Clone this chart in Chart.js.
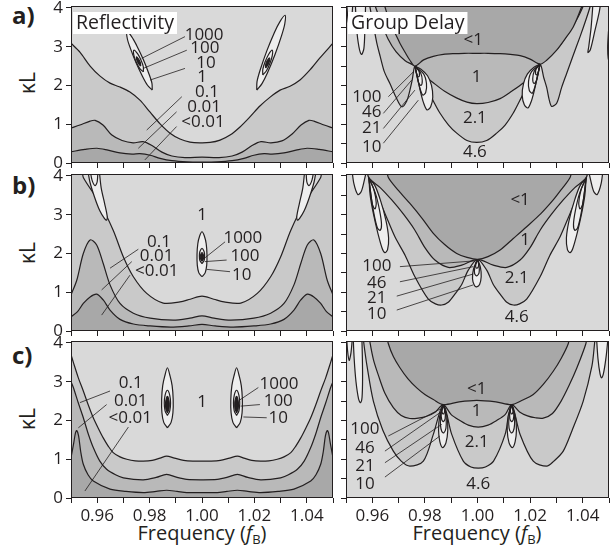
<!DOCTYPE html>
<html>
<head>
<meta charset="utf-8">
<title>Reflectivity and group delay maps</title>
<script src="https://cdn.jsdelivr.net/npm/chart.js@4.4.1/dist/chart.umd.min.js"></script>
<style>
  html, body { margin: 0; padding: 0; background: #fff; }
  body { position: relative; width: 613px; height: 554px; overflow: hidden;
         font-family: 'Open Sans', 'DejaVu Sans', sans-serif; color: #231f20; }
  canvas { position: absolute; }
  .tag { position: absolute; font-size: 24px; font-weight: bold; line-height: 24px; }
  .ylab { position: absolute; width: 40px; height: 24px; line-height: 24px; font-size: 21px;
          text-align: center; transform: rotate(-90deg); }
  .xlab { position: absolute; width: 200px; text-align: center; font-size: 20px; line-height: 24px; }
  .xlab sub { font-size: 13px; vertical-align: -4px; line-height: 0; }
</style>
</head>
<body>
<div class="tag" style="left:12px;top:3px">a)</div>
<div class="tag" style="left:12px;top:173px">b)</div>
<div class="tag" style="left:12px;top:343px">c)</div>
<div class="ylab" style="left:7px;top:71px">κL</div>
<div class="ylab" style="left:7px;top:241px">κL</div>
<div class="ylab" style="left:7px;top:407px">κL</div>
<div class="xlab" style="left:102px;top:521px">Frequency (<i>f</i><sub>B</sub>)</div>
<div class="xlab" style="left:377px;top:521px">Frequency (<i>f</i><sub>B</sub>)</div>
<script>
// ---- contour data: [frequency (f/fB), kL] ----

// reflectivity, grating a
const reflA1 = [[0.9500,3.09],[0.9534,2.86],[0.9573,2.50],[0.9611,2.24],[0.9649,2.06],[0.9687,1.96],[0.9725,1.83],[0.9763,1.62],[0.9802,1.31],[0.9840,1.01],[0.9878,0.77],[0.9916,0.62],[0.9954,0.54],[0.9992,0.52],[1.0031,0.53],[1.0069,0.59],[1.0107,0.72],[1.0145,0.93],[1.0183,1.19],[1.0221,1.47],[1.0260,1.70],[1.0298,1.88],[1.0336,1.98],[1.0374,2.14],[1.0412,2.40],[1.0450,2.71],[1.0500,3.09]];
const reflA01 = [[0.9500,0.90],[0.9534,0.98],[0.9573,1.08],[0.9592,1.10],[0.9622,0.98],[0.9656,0.72],[0.9695,0.58],[0.9737,0.52],[0.9775,0.55],[0.9809,0.45],[0.9847,0.28],[0.9885,0.18],[0.9935,0.14],[1.0000,0.15],[1.0065,0.14],[1.0115,0.18],[1.0153,0.28],[1.0191,0.45],[1.0225,0.55],[1.0263,0.52],[1.0305,0.57],[1.0344,0.75],[1.0378,0.98],[1.0408,1.10],[1.0427,1.08],[1.0466,0.98],[1.0500,0.90]];
const reflA001 = [[0.9500,0.29],[0.9553,0.35],[0.9599,0.38],[0.9641,0.33],[0.9687,0.26],[0.9733,0.23],[0.9763,0.24],[0.9802,0.20],[0.9840,0.12],[0.9885,0.06],[0.9943,0.03],[1.0000,0.025],[1.0057,0.03],[1.0115,0.06],[1.0160,0.12],[1.0198,0.20],[1.0237,0.24],[1.0267,0.23],[1.0313,0.26],[1.0359,0.33],[1.0401,0.38],[1.0447,0.35],[1.0500,0.29]];
const reflAPeakL10 = [[0.9810,1.88],[0.9809,2.055],[0.9798,2.29],[0.9776,2.67],[0.9750,3.04],[0.9732,3.255],[0.9714,3.38],[0.9715,3.205],[0.9726,2.97],[0.9748,2.59],[0.9774,2.22],[0.9792,2.005],[0.9810,1.88]];
const reflAPeakL100 = [[0.9776,2.35],[0.9776,2.483],[0.9767,2.656],[0.9754,2.819],[0.9740,2.91],[0.9740,2.777],[0.9749,2.604],[0.9762,2.441],[0.9776,2.35]];
const reflAPeakL1000 = [[0.9766,2.50],[0.9765,2.58],[0.9759,2.67],[0.9750,2.74],[0.9751,2.66],[0.9757,2.57],[0.9766,2.50]];
const reflAPeakR10 = [[1.0209,1.88],[1.0229,2.048],[1.0250,2.327],[1.0279,2.804],[1.0304,3.292],[1.0316,3.592],[1.0317,3.81],[1.0297,3.642],[1.0276,3.363],[1.0247,2.886],[1.0222,2.398],[1.0210,2.098],[1.0209,1.88]];
const reflAPeakR100 = [[1.0232,2.27],[1.0246,2.38],[1.0259,2.567],[1.0268,2.764],[1.0268,2.91],[1.0254,2.80],[1.0241,2.613],[1.0232,2.416],[1.0232,2.27]];
const reflAPeakR1000 = [[1.0243,2.45],[1.0251,2.52],[1.0257,2.62],[1.0258,2.71],[1.0249,2.64],[1.0243,2.54],[1.0243,2.45]];

// reflectivity, grating b
const reflB1 = [[0.9480,4.30],[0.9540,4.20],[0.9547,3.96],[0.9611,3.29],[0.9661,2.60],[0.9700,1.91],[0.9738,1.40],[0.9789,0.97],[0.9852,0.72],[0.9916,0.75],[0.9955,0.82],[1.0000,0.90],[1.0045,0.82],[1.0084,0.75],[1.0148,0.72],[1.0211,0.97],[1.0262,1.40],[1.0300,1.91],[1.0339,2.60],[1.0389,3.29],[1.0453,3.96],[1.0460,4.20],[1.0520,4.30]];
const reflB01 = [[0.9500,0.93],[0.9522,1.31],[0.9547,2.00],[0.9573,2.35],[0.9598,2.22],[0.9623,1.74],[0.9649,1.19],[0.9687,0.71],[0.9738,0.46],[0.9802,0.33],[0.9890,0.28],[0.9954,0.33],[1.0000,0.39],[1.0046,0.33],[1.0110,0.28],[1.0198,0.33],[1.0262,0.46],[1.0313,0.71],[1.0351,1.19],[1.0377,1.74],[1.0402,2.22],[1.0427,2.35],[1.0453,2.00],[1.0478,1.31],[1.0500,0.93]];
const reflB001 = [[0.9500,0.37],[0.9525,0.50],[0.9547,0.71],[0.9573,0.88],[0.9598,0.95],[0.9623,0.80],[0.9649,0.54],[0.9687,0.30],[0.9738,0.18],[0.9802,0.13],[0.9880,0.10],[0.9950,0.13],[1.0000,0.17],[1.0050,0.13],[1.0120,0.10],[1.0198,0.13],[1.0262,0.18],[1.0313,0.30],[1.0351,0.54],[1.0377,0.80],[1.0402,0.95],[1.0427,0.88],[1.0453,0.71],[1.0475,0.50],[1.0500,0.37]];
const reflBPeak10 = [[1.0000,1.40],[1.0012,1.50],[1.0018,1.70],[1.0019,1.97],[1.0016,2.25],[1.0009,2.45],[1.0000,2.56],[0.9991,2.45],[0.9984,2.25],[0.9981,1.97],[0.9982,1.70],[0.9988,1.50],[1.0000,1.40]];
const reflBPeak100 = [[1.0000,1.74],[1.0008,1.82],[1.0010,1.94],[1.0008,2.05],[1.0000,2.13],[0.9992,2.05],[0.9990,1.94],[0.9992,1.82],[1.0000,1.74]];
const reflBPeak1000 = [[1.0000,1.80],[1.0006,1.87],[1.0006,1.95],[1.0000,2.02],[0.9994,1.95],[0.9994,1.87],[1.0000,1.80]];
const reflBEdgeL = [[0.9563,4.20],[0.9572,3.85],[0.9590,3.45],[0.9610,3.10],[0.9628,2.90],[0.9636,2.86],[0.9638,2.97],[0.9628,3.30],[0.9615,3.70],[0.9607,4.20]];
const reflBEdgeLin = [[0.9572,4.20],[0.9580,3.90],[0.9592,3.75],[0.9600,3.85],[0.9603,4.20]];
const reflBEdgeR = [[1.0437,4.20],[1.0428,3.85],[1.0410,3.45],[1.0390,3.10],[1.0372,2.90],[1.0364,2.86],[1.0362,2.97],[1.0372,3.30],[1.0385,3.70],[1.0393,4.20]];
const reflBEdgeRin = [[1.0428,4.20],[1.0420,3.90],[1.0408,3.75],[1.0400,3.85],[1.0397,4.20]];

// reflectivity, grating c
const reflC1 = [[0.9500,3.70],[0.9509,3.50],[0.9528,3.10],[0.9547,2.76],[0.9566,2.40],[0.9585,2.07],[0.9604,1.80],[0.9623,1.55],[0.9642,1.34],[0.9661,1.17],[0.9687,1.06],[0.9713,1.00],[0.9745,0.96],[0.9776,0.95],[0.9810,0.97],[0.9840,1.03],[0.9865,1.08],[0.9895,1.03],[0.9930,0.97],[0.9965,0.95],[1.0000,0.95],[1.0035,0.95],[1.0070,0.97],[1.0105,1.03],[1.0135,1.08],[1.0160,1.03],[1.0190,0.97],[1.0224,0.95],[1.0255,0.96],[1.0287,1.00],[1.0313,1.06],[1.0339,1.17],[1.0358,1.34],[1.0377,1.55],[1.0396,1.80],[1.0415,2.07],[1.0434,2.40],[1.0453,2.76],[1.0472,3.10],[1.0491,3.50],[1.0500,3.70]];
const reflC01 = [[0.9500,3.00],[0.9509,2.85],[0.9528,2.45],[0.9547,2.07],[0.9566,1.65],[0.9585,1.30],[0.9610,0.95],[0.9636,0.74],[0.9670,0.60],[0.9700,0.52],[0.9776,0.47],[0.9825,0.53],[0.9865,0.61],[0.9905,0.53],[0.9942,0.48],[1.0000,0.47],[1.0058,0.48],[1.0095,0.53],[1.0135,0.61],[1.0175,0.53],[1.0224,0.47],[1.0300,0.52],[1.0330,0.60],[1.0364,0.74],[1.0390,0.95],[1.0415,1.30],[1.0434,1.65],[1.0453,2.07],[1.0472,2.45],[1.0491,2.85],[1.0500,3.00]];
const reflC001 = [[0.9500,1.04],[0.9510,1.40],[0.9517,1.68],[0.9522,1.74],[0.9529,1.60],[0.9537,1.20],[0.9547,0.87],[0.9565,0.60],[0.9585,0.44],[0.9649,0.23],[0.9710,0.17],[0.9776,0.14],[0.9825,0.17],[0.9865,0.20],[0.9905,0.17],[0.9942,0.14],[1.0000,0.14],[1.0058,0.14],[1.0095,0.17],[1.0135,0.20],[1.0175,0.17],[1.0224,0.14],[1.0290,0.17],[1.0351,0.23],[1.0415,0.44],[1.0435,0.60],[1.0453,0.87],[1.0463,1.20],[1.0471,1.60],[1.0478,1.74],[1.0483,1.68],[1.0490,1.40],[1.0500,1.04]];
const reflCPeakL10 = [[0.9868,1.81],[0.9882,1.95],[0.9889,2.20],[0.9890,2.55],[0.9886,2.90],[0.9878,3.15],[0.9868,3.36],[0.9858,3.15],[0.9850,2.90],[0.9846,2.55],[0.9847,2.20],[0.9854,1.95],[0.9868,1.81]];
const reflCPeakL100 = [[0.9868,2.13],[0.9877,2.25],[0.9880,2.45],[0.9877,2.65],[0.9868,2.78],[0.9859,2.65],[0.9856,2.45],[0.9859,2.25],[0.9868,2.13]];
const reflCPeakL1000 = [[0.9868,2.20],[0.9874,2.30],[0.9875,2.45],[0.9872,2.57],[0.9868,2.62],[0.9864,2.57],[0.9861,2.45],[0.9862,2.30],[0.9868,2.20]];
const reflCPeakR10 = [[1.0132,1.81],[1.0146,1.95],[1.0153,2.20],[1.0154,2.55],[1.0150,2.90],[1.0142,3.15],[1.0132,3.36],[1.0122,3.15],[1.0114,2.90],[1.0110,2.55],[1.0111,2.20],[1.0118,1.95],[1.0132,1.81]];
const reflCPeakR100 = [[1.0132,2.13],[1.0141,2.25],[1.0144,2.45],[1.0141,2.65],[1.0132,2.78],[1.0123,2.65],[1.0120,2.45],[1.0123,2.25],[1.0132,2.13]];
const reflCPeakR1000 = [[1.0132,2.20],[1.0138,2.30],[1.0139,2.45],[1.0136,2.57],[1.0132,2.62],[1.0128,2.57],[1.0125,2.45],[1.0126,2.30],[1.0132,2.20]];

// group delay, grating a
const delayA1 = [[0.9640,4.20],[0.9648,4.03],[0.9668,3.60],[0.9690,3.30],[0.9705,3.09],[0.9725,2.85],[0.9743,2.65],[0.9762,2.50],[0.9795,2.66],[0.9832,2.75],[0.9870,2.80],[0.9908,2.82],[0.9950,2.83],[0.9997,2.83],[1.0040,2.83],[1.0086,2.82],[1.0125,2.80],[1.0162,2.77],[1.0200,2.68],[1.0238,2.55],[1.0263,2.65],[1.0301,2.91],[1.0335,3.22],[1.0364,3.51],[1.0396,4.03],[1.0403,4.20]];
const delayA21 = [[0.9605,4.20],[0.9612,4.03],[0.9635,3.60],[0.9660,3.20],[0.9690,2.87],[0.9725,2.64],[0.9762,2.50],[0.9790,2.30],[0.9832,2.07],[0.9875,1.85],[0.9920,1.68],[0.9960,1.57],[0.9997,1.53],[1.0040,1.56],[1.0086,1.66],[1.0130,1.85],[1.0175,2.07],[1.0210,2.30],[1.0238,2.55],[1.0270,2.72],[1.0310,3.00],[1.0350,3.40],[1.0385,3.80],[1.0412,4.20]];
const delayA46 = [[0.9588,4.20],[0.9591,4.03],[0.9603,3.60],[0.9617,3.10],[0.9630,2.75],[0.9646,2.35],[0.9667,2.05],[0.9690,1.70],[0.9712,1.45],[0.9731,1.60],[0.9742,1.85],[0.9752,2.15],[0.9762,2.50],[0.9780,2.20],[0.9807,1.95],[0.9832,1.60],[0.9857,1.29],[0.9890,0.98],[0.9921,0.77],[0.9960,0.58],[0.9997,0.53],[1.0035,0.58],[1.0073,0.77],[1.0105,0.98],[1.0136,1.29],[1.0160,1.60],[1.0187,1.95],[1.0215,2.25],[1.0238,2.55],[1.0252,2.20],[1.0263,1.95],[1.0272,1.65],[1.0282,1.46],[1.0301,1.54],[1.0320,1.95],[1.0339,2.31],[1.0365,2.80],[1.0390,3.26],[1.0410,3.65],[1.0428,4.03],[1.0432,4.20]];
const delayALobeL10 = [[0.9762,2.50],[0.9772,2.20],[0.9783,1.85],[0.9795,1.55],[0.9808,1.37],[0.9822,1.45],[0.9830,1.70],[0.9825,2.00],[0.9810,2.25],[0.9785,2.42],[0.9762,2.50]];
const delayALobeL21 = [[0.9762,2.50],[0.9770,2.25],[0.9780,1.95],[0.9792,1.75],[0.9803,1.82],[0.9806,2.05],[0.9795,2.30],[0.9762,2.50]];
const delayALobeL46 = [[0.9762,2.50],[0.9768,2.30],[0.9776,2.07],[0.9785,2.00],[0.9790,2.12],[0.9784,2.32],[0.9762,2.50]];
const delayALobeL100 = [[0.9762,2.50],[0.9767,2.35],[0.9773,2.22],[0.9779,2.25],[0.9777,2.38],[0.9762,2.50]];
const delayALobeR10 = [[1.0238,2.55],[1.0228,2.25],[1.0217,1.90],[1.0205,1.60],[1.0192,1.42],[1.0178,1.50],[1.0170,1.75],[1.0175,2.05],[1.0190,2.30],[1.0215,2.47],[1.0238,2.55]];
const delayALobeR21 = [[1.0238,2.55],[1.0230,2.30],[1.0220,2.00],[1.0208,1.80],[1.0197,1.87],[1.0194,2.10],[1.0205,2.35],[1.0238,2.55]];
const delayALobeR46 = [[1.0238,2.55],[1.0232,2.35],[1.0224,2.12],[1.0215,2.05],[1.0210,2.17],[1.0216,2.37],[1.0238,2.55]];
const delayALobeR100 = [[1.0238,2.55],[1.0233,2.40],[1.0227,2.27],[1.0221,2.30],[1.0223,2.43],[1.0238,2.55]];
const delayAEdgeL1 = [[0.9502,4.20],[0.9507,3.75],[0.9514,3.50],[0.9521,3.70],[0.9527,4.20]];
const delayAEdgeL2 = [[0.9535,4.20],[0.9540,3.50],[0.9549,3.00],[0.9559,2.80],[0.9568,2.95],[0.9572,3.50],[0.9575,4.20]];
const delayAEdgeR1 = [[1.0440,4.20],[1.0432,3.50],[1.0423,3.00],[1.0420,2.85],[1.0429,2.92],[1.0446,3.40],[1.0463,3.90],[1.0470,4.20]];
const delayAEdgeR2 = [[1.0498,3.40],[1.0495,3.00],[1.0497,2.70],[1.0503,2.60],[1.0510,2.90],[1.0506,3.40],[1.0498,3.40]];

// group delay, grating b
const delayB1 = [[0.9655,4.20],[0.9661,3.96],[0.9700,3.62],[0.9743,3.29],[0.9790,2.90],[0.9832,2.52],[0.9875,2.23],[0.9921,2.00],[0.9960,1.90],[1.0000,1.85],[1.0040,1.92],[1.0086,2.09],[1.0135,2.38],[1.0187,2.69],[1.0240,3.02],[1.0288,3.38],[1.0320,3.66],[1.0352,3.96],[1.0360,4.20]];
const delayB21 = [[0.9580,4.20],[0.9587,3.95],[0.9630,3.70],[0.9674,3.38],[0.9720,3.00],[0.9762,2.60],[0.9800,2.15],[0.9838,1.83],[0.9889,1.64],[0.9940,1.70],[1.0000,1.85],[1.0060,1.70],[1.0111,1.64],[1.0162,1.83],[1.0200,2.15],[1.0238,2.60],[1.0280,3.00],[1.0326,3.38],[1.0370,3.70],[1.0413,3.95],[1.0420,4.20]];
const delayB46 = [[0.9580,4.20],[0.9587,3.95],[0.9610,3.63],[0.9650,3.00],[0.9686,2.43],[0.9725,1.95],[0.9762,1.40],[0.9813,0.82],[0.9840,0.70],[0.9864,0.67],[0.9890,0.75],[0.9914,0.95],[0.9940,1.20],[0.9965,1.57],[1.0000,1.85],[1.0035,1.57],[1.0060,1.20],[1.0086,0.95],[1.0110,0.75],[1.0136,0.67],[1.0160,0.70],[1.0187,0.82],[1.0238,1.40],[1.0275,1.95],[1.0314,2.43],[1.0350,3.00],[1.0390,3.63],[1.0413,3.95],[1.0420,4.20]];
const delayBLobeC10 = [[1.0000,1.85],[0.9985,1.60],[0.9981,1.35],[0.9988,1.18],[0.9997,1.14],[1.0008,1.20],[1.0014,1.40],[1.0011,1.65],[1.0000,1.85]];
const delayBLobeC21 = [[1.0000,1.85],[0.9990,1.65],[0.9989,1.48],[0.9997,1.42],[1.0006,1.50],[1.0006,1.68],[1.0000,1.85]];
const delayBLobeC46 = [[1.0000,1.85],[0.9993,1.72],[0.9996,1.62],[1.0003,1.65],[1.0004,1.75],[1.0000,1.85]];
const delayBLobeL10 = [[0.9587,3.95],[0.9592,3.50],[0.9605,3.00],[0.9622,2.50],[0.9638,2.12],[0.9648,2.02],[0.9658,2.10],[0.9662,2.40],[0.9652,2.85],[0.9632,3.35],[0.9610,3.75],[0.9587,3.95]];
const delayBLobeL21 = [[0.9587,3.95],[0.9595,3.50],[0.9607,3.00],[0.9620,2.65],[0.9630,2.60],[0.9635,2.75],[0.9628,3.10],[0.9612,3.55],[0.9587,3.95]];
const delayBLobeL46 = [[0.9587,3.95],[0.9593,3.60],[0.9601,3.25],[0.9610,3.15],[0.9615,3.30],[0.9606,3.65],[0.9587,3.95]];
const delayBLobeR10 = [[1.0413,3.95],[1.0408,3.50],[1.0395,3.00],[1.0378,2.50],[1.0362,2.12],[1.0352,2.02],[1.0342,2.10],[1.0338,2.40],[1.0348,2.85],[1.0368,3.35],[1.0390,3.75],[1.0413,3.95]];
const delayBLobeR21 = [[1.0413,3.95],[1.0405,3.50],[1.0393,3.00],[1.0380,2.65],[1.0370,2.60],[1.0365,2.75],[1.0372,3.10],[1.0388,3.55],[1.0413,3.95]];
const delayBLobeR46 = [[1.0413,3.95],[1.0407,3.60],[1.0399,3.25],[1.0390,3.15],[1.0385,3.30],[1.0394,3.65],[1.0413,3.95]];
const delayBEdgeL = [[0.9522,4.20],[0.9530,3.80],[0.9545,3.52],[0.9558,3.60],[0.9570,3.90],[0.9580,4.20]];
const delayBEdgeR = [[1.0420,4.20],[1.0430,3.90],[1.0442,3.60],[1.0455,3.52],[1.0470,3.80],[1.0478,4.20]];

// group delay, grating c
const delayC1 = [[0.9655,4.20],[0.9661,3.98],[0.9680,3.65],[0.9705,3.36],[0.9735,3.08],[0.9769,2.84],[0.9800,2.67],[0.9832,2.54],[0.9870,2.41],[0.9930,2.48],[0.9997,2.52],[1.0070,2.48],[1.0130,2.41],[1.0170,2.52],[1.0212,2.67],[1.0250,2.93],[1.0288,3.27],[1.0318,3.60],[1.0345,3.98],[1.0350,4.20]];
const delayC21 = [[0.9588,4.20],[0.9592,3.98],[0.9605,3.55],[0.9622,3.19],[0.9648,2.70],[0.9680,2.33],[0.9710,2.13],[0.9743,2.05],[0.9775,2.06],[0.9807,2.11],[0.9840,2.22],[0.9870,2.41],[0.9900,2.15],[0.9933,2.00],[0.9965,1.88],[1.0003,1.83],[1.0040,1.88],[1.0073,2.00],[1.0105,2.15],[1.0130,2.41],[1.0160,2.22],[1.0190,2.12],[1.0220,2.07],[1.0250,2.06],[1.0285,2.18],[1.0318,2.50],[1.0348,2.90],[1.0378,3.36],[1.0412,3.98],[1.0416,4.20]];
const delayC46 = [[0.9565,4.20],[0.9568,3.98],[0.9580,3.40],[0.9604,2.50],[0.9640,1.75],[0.9680,1.21],[0.9710,0.95],[0.9743,0.82],[0.9794,0.95],[0.9832,1.64],[0.9870,2.41],[0.9902,1.64],[0.9946,0.95],[0.9975,0.80],[1.0003,0.77],[1.0030,0.80],[1.0061,0.95],[1.0105,1.64],[1.0130,2.41],[1.0162,1.64],[1.0212,0.95],[1.0263,0.82],[1.0290,0.95],[1.0326,1.21],[1.0360,1.75],[1.0402,2.50],[1.0435,3.40],[1.0445,3.98],[1.0448,4.20]];
const delayCLobeL10 = [[0.9870,2.41],[0.9856,2.10],[0.9852,1.75],[0.9857,1.45],[0.9868,1.30],[0.9880,1.42],[0.9887,1.75],[0.9884,2.10],[0.9870,2.41]];
const delayCLobeL21 = [[0.9870,2.41],[0.9860,2.15],[0.9859,1.90],[0.9864,1.72],[0.9872,1.68],[0.9880,1.80],[0.9881,2.05],[0.9877,2.25],[0.9870,2.41]];
const delayCLobeL46 = [[0.9870,2.41],[0.9862,2.20],[0.9864,2.02],[0.9870,1.97],[0.9877,2.05],[0.9877,2.22],[0.9870,2.41]];
const delayCLobeL100 = [[0.9870,2.41],[0.9865,2.28],[0.9867,2.18],[0.9872,2.17],[0.9875,2.26],[0.9870,2.41]];
const delayCLobeR10 = [[1.0130,2.41],[1.0144,2.10],[1.0148,1.75],[1.0143,1.45],[1.0132,1.30],[1.0120,1.42],[1.0113,1.75],[1.0116,2.10],[1.0130,2.41]];
const delayCLobeR21 = [[1.0130,2.41],[1.0140,2.15],[1.0141,1.90],[1.0136,1.72],[1.0128,1.68],[1.0120,1.80],[1.0119,2.05],[1.0123,2.25],[1.0130,2.41]];
const delayCLobeR46 = [[1.0130,2.41],[1.0138,2.20],[1.0136,2.02],[1.0130,1.97],[1.0123,2.05],[1.0123,2.22],[1.0130,2.41]];
const delayCLobeR100 = [[1.0130,2.41],[1.0135,2.28],[1.0133,2.18],[1.0128,2.17],[1.0125,2.26],[1.0130,2.41]];
const delayCEdgeL1 = [[0.9502,4.20],[0.9506,3.80],[0.9512,3.55],[0.9519,3.75],[0.9525,4.20]];
const delayCEdgeL2 = [[0.9527,4.20],[0.9531,3.60],[0.9538,3.00],[0.9548,2.55],[0.9555,2.46],[0.9561,2.60],[0.9563,3.10],[0.9562,3.70],[0.9560,4.20]];
const delayCEdgeR = [[1.0452,4.20],[1.0458,3.60],[1.0466,3.20],[1.0472,3.10],[1.0480,3.25],[1.0490,3.70],[1.0497,4.20]];

// ---- level labels and their leader lines (same units as above) ----
const notesReflA = [
  {t: '1000', f: 1.0008, k: 3.30, from: [0.9935, 3.26], to: [0.9770, 2.70]},
  {t: '100', f: 1.0011, k: 2.96, from: [0.9942, 2.91], to: [0.9776, 2.44]},
  {t: '10', f: 1.0015, k: 2.58, from: [0.9935, 2.44], to: [0.9802, 2.14]},
  {t: '1', f: 1.0000, k: 2.22},
  {t: '0.1', f: 1.0019, k: 1.83, from: [0.9923, 1.71], to: [0.9789, 0.85]},
  {t: '0.01', f: 1.0008, k: 1.44, from: [0.9903, 1.32], to: [0.9757, 0.38]},
  {t: '<0.01', f: 1.0004, k: 1.06, from: [0.9903, 0.94], to: [0.9782, 0.08]}
];
const notesReflB = [
  {t: '1', f: 1.0000, k: 2.99},
  {t: '1000', f: 1.0156, k: 2.39, from: [1.0088, 2.30], to: [1.0008, 1.87]},
  {t: '100', f: 1.0164, k: 1.93, from: [1.0094, 1.83], to: [1.0011, 1.79]},
  {t: '10', f: 1.0152, k: 1.44, from: [1.0107, 1.53], to: [1.0018, 1.59]},
  {t: '0.1', f: 0.9836, k: 2.30, from: [0.9757, 2.11], to: [0.9649, 1.62]},
  {t: '0.01', f: 0.9827, k: 1.93, from: [0.9732, 1.79], to: [0.9617, 1.06]},
  {t: '<0.01', f: 0.9827, k: 1.55, from: [0.9725, 1.44], to: [0.9617, 0.41]}
];
const notesReflC = [
  {t: '0.1', f: 0.9728, k: 2.97, from: [0.9649, 2.76], to: [0.9534, 2.46]},
  {t: '0.01', f: 0.9728, k: 2.50, from: [0.9636, 2.41], to: [0.9528, 1.81]},
  {t: '<0.01', f: 0.9726, k: 2.07, from: [0.9719, 1.83], to: [0.9553, 0.18]},
  {t: '1', f: 1.0000, k: 2.46},
  {t: '1000', f: 1.0294, k: 2.93, from: [1.0215, 2.85], to: [1.0142, 2.52]},
  {t: '100', f: 1.0291, k: 2.50, from: [1.0221, 2.41], to: [1.0148, 2.37]},
  {t: '10', f: 1.0291, k: 2.07, from: [1.0247, 2.07], to: [1.0158, 2.09]}
];
const notesDelayA = [
  {t: '<1', f: 0.9984, k: 3.17}, {t: '1', f: 0.9997, k: 2.22},
  {t: '2.1', f: 0.9990, k: 1.15}, {t: '4.6', f: 0.9990, k: 0.29},
  {t: '100', f: 0.9579, k: 1.71, from: [0.9661, 1.71], to: [0.9756, 2.35]},
  {t: '46', f: 0.9598, k: 1.32, from: [0.9642, 1.28], to: [0.9750, 2.14]},
  {t: '21', f: 0.9598, k: 0.89, from: [0.9642, 0.89], to: [0.9762, 1.88]},
  {t: '10', f: 0.9598, k: 0.42, from: [0.9642, 0.51], to: [0.9775, 1.62]}
];
const notesDelayB = [
  {t: '<1', f: 1.0162, k: 3.38}, {t: '1', f: 1.0181, k: 2.35},
  {t: '2.1', f: 1.0149, k: 1.36}, {t: '4.6', f: 1.0149, k: 0.37},
  {t: '100', f: 0.9617, k: 1.66, from: [0.9705, 1.66], to: [0.9990, 1.81]},
  {t: '46', f: 0.9617, k: 1.23, from: [0.9705, 1.27], to: [0.9984, 1.66]},
  {t: '21', f: 0.9617, k: 0.84, from: [0.9693, 0.90], to: [0.9984, 1.47]},
  {t: '10', f: 0.9617, k: 0.44, from: [0.9693, 0.54], to: [0.9984, 1.19]}
];
const notesDelayC = [
  {t: '<1', f: 0.9997, k: 2.80}, {t: '1', f: 0.9997, k: 2.24},
  {t: '2.1', f: 0.9997, k: 1.43}, {t: '4.6', f: 1.0003, k: 0.35},
  {t: '100', f: 0.9572, k: 1.77, from: [0.9661, 1.60], to: [0.9857, 2.29]},
  {t: '46', f: 0.9572, k: 1.28, from: [0.9648, 1.21], to: [0.9857, 2.20]},
  {t: '21', f: 0.9572, k: 0.82, from: [0.9648, 0.91], to: [0.9864, 1.90]},
  {t: '10', f: 0.9572, k: 0.37, from: [0.9648, 0.54], to: [0.9857, 1.60]}
];

// ---- look ----
const INK = '#231f20';
const FONT = "'Open Sans', 'DejaVu Sans', sans-serif";
const GREY = {
  top: '#d9d9d9',   // refl. 1 / delay 4.6 (plot background)
  mid1: '#c9c9c9',  // refl. 0.1 / delay 2.1
  mid2: '#b9b9b9',  // refl. 0.01 / delay 1
  low: '#a8a8a8',   // refl. <0.01 / delay <1
  peak: '#eeeeee'
};

const xy = pts => pts.map(p => ({x: p[0], y: p[1]}));
const contour = (pts, extra) => Object.assign({
  data: xy(pts), showLine: true, pointRadius: 0, borderColor: INK,
  borderWidth: 1.2, tension: 0.3, fill: false, clip: 0, order: 20
}, extra);
const band = (pts, fill, color, order) => contour(pts, {fill, backgroundColor: color, order});
const loop = (pts, color, order) => contour(pts, {fill: 'shape', backgroundColor: color, order});
const leaders = notes => notes.filter(n => n.from).map(n =>
  contour([n.from, n.to], {borderWidth: 0.8, tension: 0, order: 1}));

function reflSets(c1, c01, c001, loops, notes) {
  return [
    band(c1, 'start', GREY.mid1, 50),
    band(c01, 'start', GREY.mid2, 49),
    band(c001, 'start', GREY.low, 48),
    ...loops,
    ...leaders(notes)
  ];
}
function delaySets(c46, c21, c1, loops, notes) {
  return [
    band(c46, 'end', GREY.mid1, 50),
    band(c21, 'end', GREY.mid2, 49),
    band(c1, 'end', GREY.low, 48),
    ...loops,
    ...leaders(notes)
  ];
}

const panels = [
  {x: 71, y: 6, title: 'Reflectivity', yLabels: true, xLabels: false, notes: notesReflA,
   sets: reflSets(reflA1, reflA01, reflA001, [
     loop(reflAPeakL10, GREY.peak, 30), loop(reflAPeakL100, GREY.peak, 29), loop(reflAPeakL1000, INK, 28),
     loop(reflAPeakR10, GREY.peak, 30), loop(reflAPeakR100, GREY.peak, 29), loop(reflAPeakR1000, INK, 28)
   ], notesReflA)},
  {x: 346, y: 6, title: 'Group Delay', yLabels: false, xLabels: false, notes: notesDelayA,
   sets: delaySets(delayA46, delayA21, delayA1, [
     loop(delayALobeL10, GREY.peak, 30), contour(delayALobeL21, {order: 29}),
     contour(delayALobeL46, {order: 29}), contour(delayALobeL100, {order: 29}),
     loop(delayALobeR10, GREY.peak, 30), contour(delayALobeR21, {order: 29}),
     contour(delayALobeR46, {order: 29}), contour(delayALobeR100, {order: 29}),
     loop(delayAEdgeL1, GREY.peak, 30), loop(delayAEdgeL2, GREY.peak, 30),
     loop(delayAEdgeR1, GREY.peak, 30), loop(delayAEdgeR2, GREY.peak, 30)
   ], notesDelayA)},
  {x: 71, y: 174, yLabels: true, xLabels: false, notes: notesReflB,
   sets: reflSets(reflB1, reflB01, reflB001, [
     loop(reflBPeak10, GREY.peak, 30), loop(reflBPeak100, GREY.peak, 29), loop(reflBPeak1000, INK, 28),
     loop(reflBEdgeL, GREY.peak, 30), contour(reflBEdgeLin, {order: 29}),
     loop(reflBEdgeR, GREY.peak, 30), contour(reflBEdgeRin, {order: 29})
   ], notesReflB)},
  {x: 346, y: 174, yLabels: false, xLabels: false, notes: notesDelayB,
   sets: delaySets(delayB46, delayB21, delayB1, [
     loop(delayBLobeC10, GREY.peak, 30), contour(delayBLobeC21, {order: 29}), contour(delayBLobeC46, {order: 29}),
     loop(delayBLobeL10, GREY.peak, 30), contour(delayBLobeL21, {order: 29}), contour(delayBLobeL46, {order: 29}),
     loop(delayBLobeR10, GREY.peak, 30), contour(delayBLobeR21, {order: 29}), contour(delayBLobeR46, {order: 29}),
     loop(delayBEdgeL, GREY.peak, 30), loop(delayBEdgeR, GREY.peak, 30)
   ], notesDelayB)},
  {x: 71, y: 341, yLabels: true, xLabels: true, notes: notesReflC,
   sets: reflSets(reflC1, reflC01, reflC001, [
     loop(reflCPeakL10, GREY.peak, 30), loop(reflCPeakL100, GREY.peak, 29), loop(reflCPeakL1000, INK, 28),
     loop(reflCPeakR10, GREY.peak, 30), loop(reflCPeakR100, GREY.peak, 29), loop(reflCPeakR1000, INK, 28)
   ], notesReflC)},
  {x: 346, y: 341, yLabels: false, xLabels: true, notes: notesDelayC,
   sets: delaySets(delayC46, delayC21, delayC1, [
     loop(delayCLobeL10, GREY.peak, 30), contour(delayCLobeL21, {order: 29}),
     contour(delayCLobeL46, {order: 29}), contour(delayCLobeL100, {order: 29}),
     loop(delayCLobeR10, GREY.peak, 30), contour(delayCLobeR21, {order: 29}),
     contour(delayCLobeR46, {order: 29}), contour(delayCLobeR100, {order: 29}),
     loop(delayCEdgeL1, GREY.peak, 30), loop(delayCEdgeL2, GREY.peak, 30), loop(delayCEdgeR, GREY.peak, 30)
   ], notesDelayC)}
];

// background, frame, level labels and the white title box
const decor = panel => ({
  id: 'decor',
  beforeDatasetsDraw(chart) {
    const {ctx, chartArea: a} = chart;
    ctx.save();
    ctx.fillStyle = GREY.top;
    ctx.fillRect(a.left, a.top, a.width, a.height);
    ctx.restore();
  },
  afterDatasetsDraw(chart) {
    const {ctx, chartArea: a, scales: {x, y}} = chart;
    ctx.save();
    ctx.fillStyle = INK;
    ctx.font = '17px ' + FONT;
    ctx.textAlign = 'center';
    ctx.textBaseline = 'middle';
    panel.notes.forEach(n => ctx.fillText(n.t, x.getPixelForValue(n.f), y.getPixelForValue(n.k)));
    if (panel.title) {
      ctx.font = '19.5px ' + FONT;
      ctx.textAlign = 'left';
      ctx.textBaseline = 'alphabetic';
      const w = ctx.measureText(panel.title).width;
      ctx.fillStyle = '#fff';
      ctx.fillRect(a.left + 2, a.top + 6, w + 6, 22);
      ctx.fillStyle = INK;
      ctx.fillText(panel.title, a.left + 5, a.top + 23);
    }
    ctx.strokeStyle = INK;
    ctx.lineWidth = 1;
    ctx.strokeRect(a.left + 0.5, a.top + 0.5, a.width - 1, a.height - 1);
    ctx.restore();
  }
});

const PAD_L = 45, PAD_T = 14, PAD_R = 6, PAD_B = 36;
const PLOT_W = {71: 262, 346: 263};
const PLOT_H = 157;

panels.forEach(p => {
  const cv = document.createElement('canvas');
  const w = PLOT_W[p.x] + PAD_L + PAD_R, h = PLOT_H + PAD_T + PAD_B;
  cv.width = w; cv.height = h;
  cv.style.width = w + 'px'; cv.style.height = h + 'px';
  cv.style.left = (p.x - PAD_L) + 'px'; cv.style.top = (p.y - PAD_T) + 'px';
  document.body.appendChild(cv);

  const tickFont = {family: FONT, size: 17};
  const grid = {drawOnChartArea: false, drawTicks: true, tickLength: 5, tickColor: INK, tickWidth: 1};
  new Chart(cv, {
    type: 'scatter',
    data: {datasets: p.sets},
    options: {
      responsive: false,
      animation: false,
      devicePixelRatio: 1,
      layout: {padding: {top: PAD_T, right: PAD_R, left: 0, bottom: 0}},
      plugins: {legend: {display: false}, tooltip: {enabled: false}},
      scales: {
        x: {
          type: 'linear', min: 0.95, max: 1.05,
          grid, border: {display: false},
          afterFit: s => { s.height = PAD_B; },
          ticks: {
            display: p.xLabels, stepSize: 0.01, autoSkip: false, maxRotation: 0, minRotation: 0,
            color: INK, font: tickFont, padding: 3,
            callback: v => {
              const k = Math.round(v * 100);
              return k % 2 === 0 ? (k / 100).toFixed(2) : '';
            }
          }
        },
        y: {
          type: 'linear', min: 0, max: 4.05,
          grid, border: {display: false},
          afterFit: s => { s.width = PAD_L; },
          ticks: {
            display: p.yLabels, stepSize: 0.5, includeBounds: false,
            color: INK, font: tickFont, padding: 3,
            callback: v => Number.isInteger(v) ? String(v) : ''
          }
        }
      }
    },
    plugins: [decor(p)]
  });
});
</script>
</body>
</html>
